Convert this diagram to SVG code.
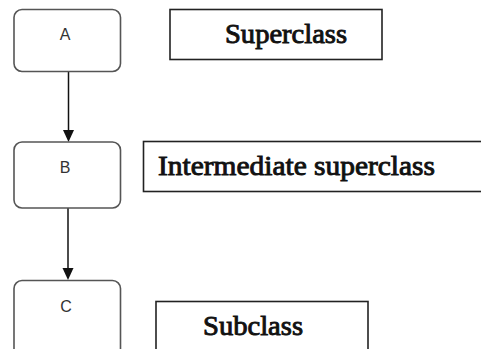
<svg xmlns="http://www.w3.org/2000/svg" width="481" height="349" viewBox="0 0 481 349">
<style>
.node{fill:#fff;stroke:#555;stroke-width:1.6}
.nlabel{font-family:"Liberation Sans",Arial,sans-serif;font-size:16px;fill:#333;text-anchor:middle}
.box{fill:#fff;stroke:#222;stroke-width:1.6}
.blabel{font-family:"Liberation Serif","Times New Roman",serif;font-size:27px;fill:#111;stroke:#111;stroke-width:0.9}
.conn{stroke:#111;stroke-width:1.5;fill:none}
.head{fill:#111}
</style>
<rect width="481" height="349" fill="#fff"/>
<g id="connectors">
<line class="conn" x1="68.5" y1="72" x2="68.5" y2="131"/>
<polygon class="head" points="63,130 74,130 68.5,142"/>
<line class="conn" x1="68" y1="208" x2="68" y2="269"/>
<polygon class="head" points="62.5,268 73.5,268 68,280"/>
</g>
<g id="nodeA">
<rect class="node" x="14" y="9.5" width="106.5" height="62" rx="8"/>
<text class="nlabel" x="65" y="39.5">A</text>
</g>
<g id="nodeB">
<rect class="node" x="14" y="142" width="106.5" height="66" rx="8"/>
<text class="nlabel" x="65" y="172.5">B</text>
</g>
<g id="nodeC">
<rect class="node" x="14" y="280.5" width="106.5" height="80" rx="8"/>
<text class="nlabel" x="66" y="311.5">C</text>
</g>
<g id="labelSuperclass">
<rect class="box" x="170" y="9.5" width="212" height="50"/>
<text class="blabel" x="225" y="43" textLength="122" lengthAdjust="spacingAndGlyphs">Superclass</text>
</g>
<g id="labelIntermediate">
<rect class="box" x="143.5" y="141.5" width="340" height="50"/>
<text class="blabel" x="158" y="175" textLength="277" lengthAdjust="spacingAndGlyphs">Intermediate superclass</text>
</g>
<g id="labelSubclass">
<rect class="box" x="156" y="301.5" width="212" height="60"/>
<text class="blabel" x="203" y="335" textLength="100" lengthAdjust="spacingAndGlyphs">Subclass</text>
</g>
</svg>
